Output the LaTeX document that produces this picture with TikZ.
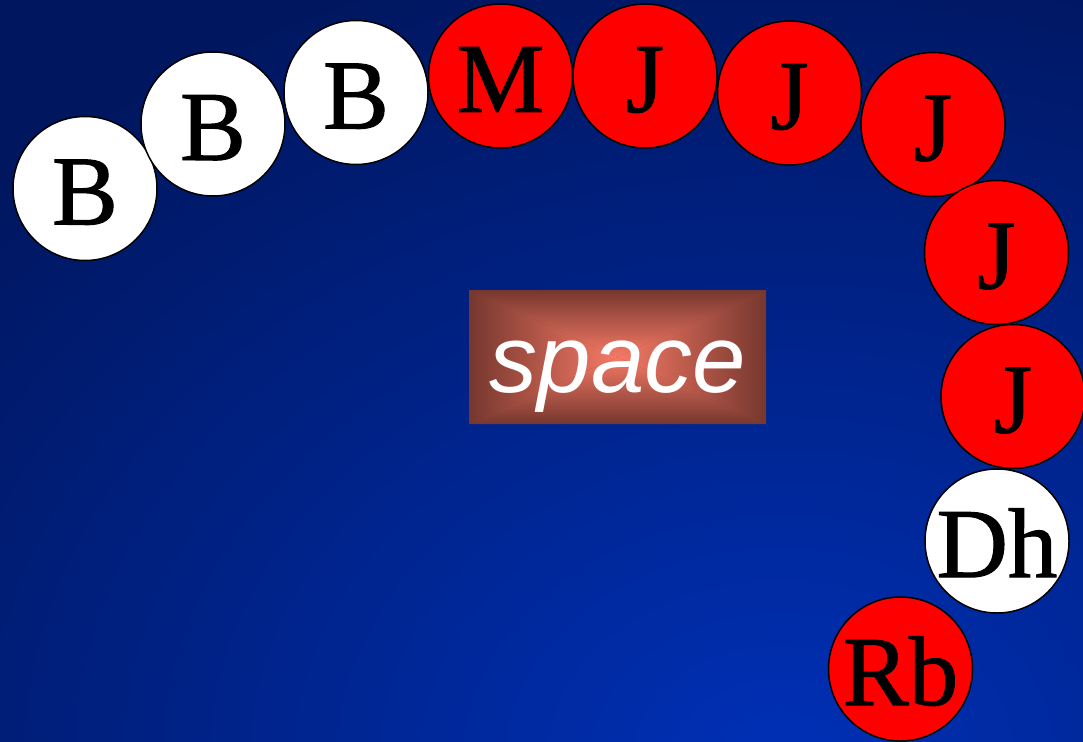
\documentclass[tikz,border=0pt]{standalone}
\usepackage{tikz}
\usepackage{fontspec}
\setmainfont{Liberation Serif}
\newfontfamily\ballfont[FakeBold=1]{Liberation Serif}
\newfontfamily\arialfont{Liberation Sans}
\definecolor{bginner}{RGB}{0,48,182}
\definecolor{bgouter}{RGB}{0,22,94}
\definecolor{boxcenter}{RGB}{246,122,102}
\definecolor{boxmid}{RGB}{206,92,76}
\definecolor{boxedge}{RGB}{118,55,46}
\definecolor{ballred}{RGB}{255,0,0}
\tikzset{
  ball/.style={circle, draw=black, line width=1.5pt, minimum size=144pt, inner sep=0pt,
    text height=72pt, text depth=0pt,
    font=\ballfont\fontsize{99}{99}\selectfont},
  whiteball/.style={ball, fill=white},
  redball/.style={ball, fill=ballred},
}
\begin{document}
\begin{tikzpicture}[x=1pt,y=-1pt]
\useasboundingbox (0,0) rectangle (1083,741);
% background
\begin{scope}
\clip (0,0) rectangle (1083,741);
\fill[bgouter] (0,0) rectangle (1083,741);
\shade[inner color=bginner, outer color=bgouter] (780,760) ellipse [x radius=1100, y radius=850];
\end{scope}
% space box
\coordinate (tl) at (469,290);
\coordinate (tr) at (766,290);
\coordinate (bl) at (469,424);
\coordinate (br) at (766,424);
\coordinate (c) at (617.5,357);
\fill[boxedge] (tl) rectangle (br);
\shade[top color=boxedge, middle color=boxmid, bottom color=boxcenter] (tl) -- (tr) -- (c) -- cycle;
\shade[bottom color=boxedge, middle color=boxmid, top color=boxcenter] (bl) -- (br) -- (c) -- cycle;
\shade[left color=boxedge, middle color=boxmid, right color=boxcenter] (tl) -- (bl) -- (c) -- cycle;
\shade[right color=boxedge, middle color=boxmid, left color=boxcenter] (tr) -- (br) -- (c) -- cycle;
\node[anchor=base, text=white, font=\arialfont\itshape\fontsize{96}{96}\selectfont, inner sep=0pt] (space) at (618,392) {space};
% balls
\node[whiteball] (b1) at (85,188.5) {B};
\node[whiteball] (b2) at (213,124) {B};
\node[whiteball] (b3) at (356,92.5) {B};
\node[redball] (m) at (500.5,76) {M};
\node[redball] (j1) at (645,76) {J};
\node[redball] (j2) at (789.5,93) {J};
\node[redball] (j3) at (933,124.5) {J};
\node[redball] (j4) at (996.5,252.5) {J};
\node[redball] (j5) at (1013,396.5) {J};
\node[whiteball] (dh) at (997,541) {Dh};
\node[redball] (rb) at (900.5,669) {Rb};
\end{tikzpicture}
\end{document}
